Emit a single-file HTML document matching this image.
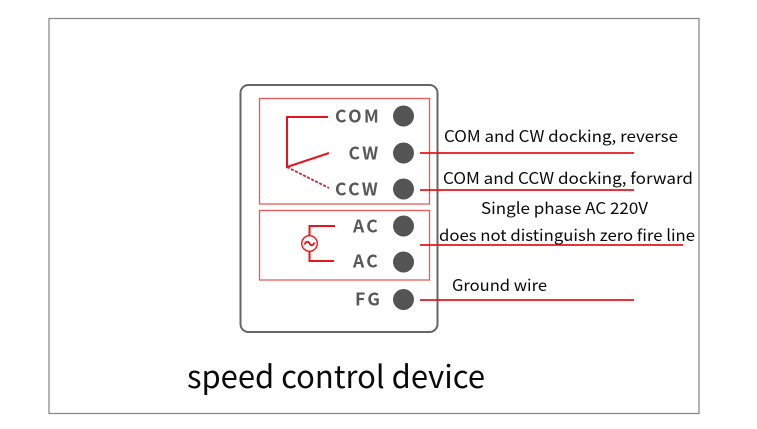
<!DOCTYPE html>
<html>
<head>
<meta charset="utf-8">
<style>
html,body{margin:0;padding:0;background:#fff;width:757px;height:429px;overflow:hidden}
svg{display:block}
.t{font-family:"Noto Sans CJK SC","Liberation Sans",sans-serif;font-size:16px;fill:#0a0a0a}
.l{font-family:"Noto Sans CJK SC","Liberation Sans",sans-serif;font-size:17.500px;font-weight:bold;fill:#585858}
</style>
</head>
<body>
<svg width="757" height="429" viewBox="0 0 757 429" xmlns="http://www.w3.org/2000/svg">
<rect width="757" height="429" fill="#fff"/>
<rect x="49" y="18.500" width="650" height="395" fill="none" stroke="#8a8a8a" stroke-width="1.300"/>
<rect x="240.500" y="85" width="197" height="247" rx="8" fill="#fff" stroke="#666" stroke-width="2"/>
<rect x="259.500" y="98.500" width="170" height="105.500" fill="none" stroke="#e85a5a" stroke-width="1.300"/>
<rect x="259.500" y="210.500" width="170" height="69.500" fill="none" stroke="#e85a5a" stroke-width="1.300"/>

<path d="M328 117H287V167L329 153" fill="none" stroke="#e8141c" stroke-width="2"/>
<path d="M287 167L329 188" fill="none" stroke="#d8202c" stroke-width="1.800" stroke-dasharray="3 1.500"/>

<path d="M335 226H309.500V236M309.500 251V261H334" fill="none" stroke="#e8141c" stroke-width="2"/>
<circle cx="309.500" cy="243.500" r="7.800" fill="#fff" stroke="#e8141c" stroke-width="1.400"/>
<path d="M304.500 244.500C306.500 240.500 308.500 241.500 309.500 243.500C310.500 245.500 312.500 246.500 314.500 242.500" fill="none" stroke="#e8141c" stroke-width="1.900"/>

<text class="l" x="335" y="122.500" letter-spacing="2.300">COM</text>
<text class="l" x="348.500" y="159.500" letter-spacing="2.300">CW</text>
<text class="l" x="335" y="195.500" letter-spacing="2.300">CCW</text>
<text class="l" x="353" y="232.500" letter-spacing="2.300">AC</text>
<text class="l" x="353" y="267.500" letter-spacing="2.300">AC</text>
<text class="l" x="355" y="305.500" letter-spacing="2.300">FG</text>

<g fill="#545454">
<circle cx="403.500" cy="116" r="10.500"/>
<circle cx="403.500" cy="153" r="10.500"/>
<circle cx="403.500" cy="189" r="10.500"/>
<circle cx="403.500" cy="226" r="10.500"/>
<circle cx="403.500" cy="262" r="10.500"/>
<circle cx="403.500" cy="299.500" r="10.500"/>
</g>

<g stroke="#e8141c" stroke-width="1.800">
<path d="M420 153H634"/>
<path d="M420 190H634"/>
<path d="M420 245H683"/>
<path d="M420 300H634"/>
</g>

<text class="t" x="444" y="142" textLength="234" lengthAdjust="spacingAndGlyphs">COM and CW docking, reverse</text>
<text class="t" x="443" y="184" textLength="250" lengthAdjust="spacingAndGlyphs">COM and CCW docking, forward</text>
<text class="t" x="481" y="214" textLength="167" lengthAdjust="spacingAndGlyphs">Single phase AC 220V</text>
<text class="t" x="439" y="241" textLength="256" lengthAdjust="spacingAndGlyphs">does not distinguish zero fire line</text>
<text class="t" x="452" y="291" textLength="95" lengthAdjust="spacingAndGlyphs">Ground wire</text>

<text x="187" y="388" font-family="'Noto Sans CJK SC','Liberation Sans',sans-serif" font-size="31" fill="#0a0a0a" textLength="298" lengthAdjust="spacingAndGlyphs">speed control device</text>
</svg>
</body>
</html>
